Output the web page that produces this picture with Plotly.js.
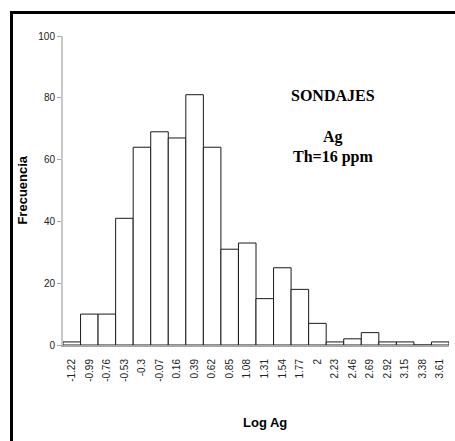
<!DOCTYPE html>
<html>
<head>
<meta charset="utf-8">
<script src="https://cdn.plot.ly/plotly-3.0.1.min.js"></script>
<style>
  html, body { margin: 0; padding: 0; background: #fff; }
  #wrap { position: relative; width: 455px; height: 441px; overflow: hidden; }
  #frame { position: absolute; left: 10px; top: 11px; width: 500px; height: 500px;
           border-left: 3px solid #000; border-top: 3px solid #000; pointer-events: none; }
  #chart { position: absolute; left: 0; top: 0; width: 455px; height: 441px; }
</style>
</head>
<body>
<div id="wrap">
  <div id="chart"></div>
  <div id="frame"></div>
</div>
<script>
const categories = ["-1.22","-0.99","-0.76","-0.53","-0.3","-0.07","0.16","0.39","0.62","0.85","1.08","1.31","1.54","1.77","2","2.23","2.46","2.69","2.92","3.15","3.38","3.61"];
const frecuencia = [1,10,10,41,64,69,67,81,64,31,33,15,25,18,7,1,2,4,1,1,0,1];
const yTicks = [0,20,40,60,80,100];

const trace = {
  type: 'bar',
  x: categories,
  y: frecuencia,
  marker: { color: '#ffffff', line: { color: '#1a1a1a', width: 1 } },
  hoverinfo: 'x+y'
};

const serif = { family: 'Liberation Serif, Times New Roman, serif', size: 16, color: '#000' };
const sans13 = { family: 'Liberation Sans, Arial, sans-serif', size: 13, color: '#000' };

const layout = {
  width: 455, height: 441,
  margin: { l: 63, r: 6, t: 36, b: 96 },
  paper_bgcolor: '#ffffff', plot_bgcolor: '#ffffff',
  bargap: 0,
  showlegend: false,
  xaxis: {
    type: 'category',
    range: [-0.5, 21.5],
    tickangle: -90,
    ticks: '',
    ticklabelstandoff: 8,
    tickfont: { family: 'Liberation Sans, Arial, sans-serif', size: 10, color: '#222' },
    showgrid: false, zeroline: false,
    showline: true, linecolor: '#a6a6a6', linewidth: 2
  },
  yaxis: {
    range: [0, 100],
    tickvals: yTicks,
    ticks: 'outside', ticklen: 4, tickcolor: '#a6a6a6', tickwidth: 1,
    tickfont: { family: 'Liberation Sans, Arial, sans-serif', size: 10, color: '#222' },
    showgrid: false, zeroline: false,
    showline: true, linecolor: '#c8c8c8', linewidth: 2
  },
  annotations: [
    { text: '<b>SONDAJES</b>', xref: 'paper', yref: 'paper', x: 0.70, y: 0.809,
      xanchor: 'center', yanchor: 'middle', showarrow: false, font: serif },
    { text: '<b>Ag</b>', xref: 'paper', yref: 'paper', x: 0.70, y: 0.673,
      xanchor: 'center', yanchor: 'middle', showarrow: false, font: serif },
    { text: '<b>Th=16 ppm</b>', xref: 'paper', yref: 'paper', x: 0.70, y: 0.608,
      xanchor: 'center', yanchor: 'middle', showarrow: false, font: serif },
    { text: '<b>Frecuencia</b>', xref: 'paper', yref: 'paper', x: -0.106, y: 0.5, textangle: -90,
      xanchor: 'center', yanchor: 'middle', showarrow: false, font: sans13 },
    { text: '<b>Log Ag</b>', xref: 'paper', yref: 'paper', x: 0.523, y: -0.252,
      xanchor: 'center', yanchor: 'middle', showarrow: false, font: sans13 }
  ]
};

Plotly.newPlot('chart', [trace], layout, { displayModeBar: false, staticPlot: true });
</script>
</body>
</html>
